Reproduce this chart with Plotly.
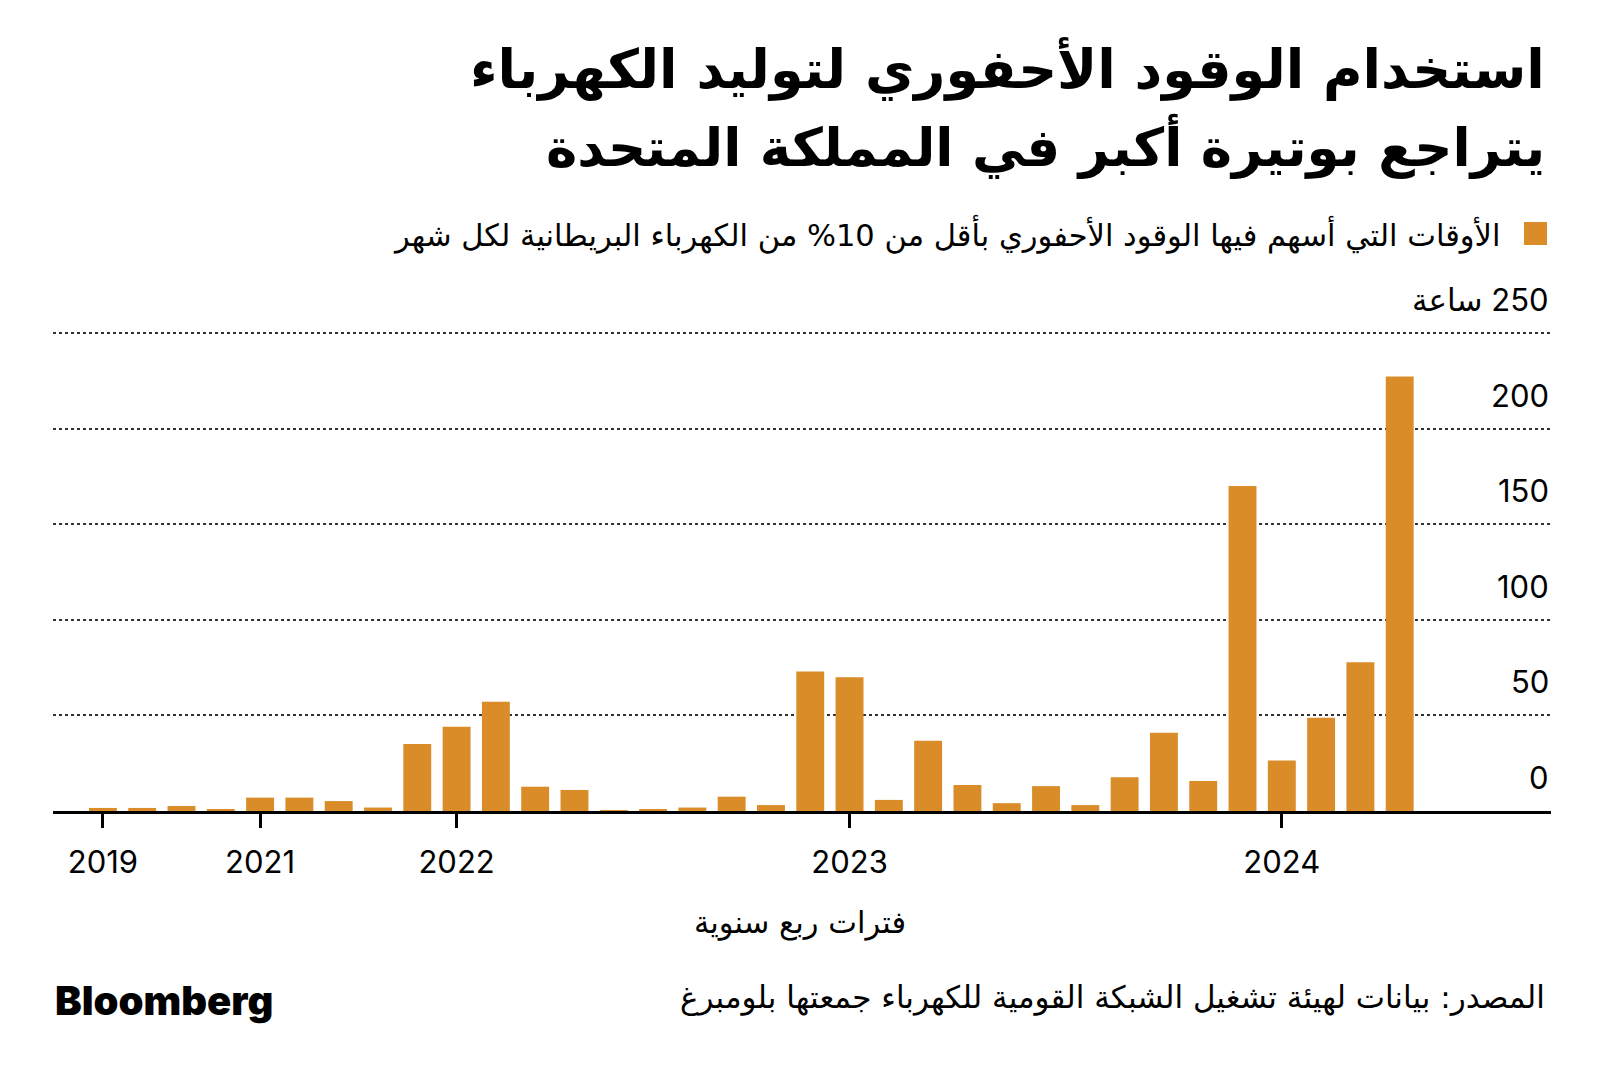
import plotly.graph_objects as go

# ---- data ----
period_index = list(range(34))
hours = [1.6, 1.6, 2.6, 1.0, 7.0, 7.0, 5.2, 1.8, 35.0, 44.0, 57.1, 12.7, 11.0, 0.4,
         1.0, 1.8, 7.5, 3.1, 73.0, 70.0, 5.8, 36.8, 13.6, 4.1, 13.0, 3.1, 17.6, 40.9,
         15.7, 169.9, 26.4, 48.8, 77.8, 227.2]
year_tick_index = [0, 4, 9, 19, 30]
year_tick_text = ["2019", "2021", "2022", "2023", "2024"]
y_tick_values = [0, 50, 100, 150, 200, 250]
y_tick_text = ["0", "50", "100", "150", "200", "ساعة\u200e 250"]

title_line1 = "استخدام الوقود الأحفوري لتوليد الكهرباء"
title_line2 = "يتراجع بوتيرة أكبر في المملكة المتحدة"
legend_text = "الأوقات التي أسهم فيها الوقود الأحفوري بأقل من 10% من الكهرباء البريطانية لكل شهر"
x_title = "فترات ربع سنوية"
source_text = "المصدر: بيانات لهيئة تشغيل الشبكة القومية للكهرباء جمعتها بلومبرغ"

BAR_COLOR = "#D98C28"
W, H = 1600, 1080
L, R = 53, 49
T, B = 331, 269
PW, PH = W - L - R, H - T - B

def px_x(px):
    return (px - L) / PW

def px_y(py):
    return (H - B - py) / PH

AR_FONT = "DejaVu Sans"
NUM_FONT = "Inter, DejaVu Sans"

fig = go.Figure()
fig.add_trace(go.Bar(x=period_index, y=hours, marker=dict(color=BAR_COLOR, line=dict(width=0)),
                     showlegend=False, hoverinfo="y"))

fig.update_layout(
    width=W, height=H,
    margin=dict(l=L, r=R, t=T, b=B, pad=0),
    paper_bgcolor="white", plot_bgcolor="white",
    bargap=0.29,
    xaxis=dict(range=[-1.27, 36.85], tickmode="array", tickvals=year_tick_index,
               ticktext=year_tick_text, showgrid=False, zeroline=False,
               showline=True, linecolor="black", linewidth=3,
               ticks="outside", ticklen=14, tickwidth=3, tickcolor="black",
               ticklabelstandoff=8,
               tickfont=dict(family=NUM_FONT, size=31, color="black")),
    yaxis=dict(range=[0, 251], tickmode="array", tickvals=y_tick_values,
               showticklabels=False, showgrid=True, gridcolor="#333333",
               gridwidth=1.5, griddash="dot", zeroline=False, showline=False),
)

annotations = []
for v, t in zip(y_tick_values, y_tick_text):
    annotations.append(dict(x=1.0, xref="paper", xanchor="right", y=v, yref="y",
                            yanchor="bottom", yshift=13, text=t, showarrow=False,
                            font=dict(family=NUM_FONT, size=31, color="black")))

annotations += [
    dict(x=px_x(1547), y=px_y(69), xref="paper", yref="paper", xanchor="right", yanchor="middle",
         text="<b>" + title_line1 + "</b>", showarrow=False,
         font=dict(family=AR_FONT, size=54, color="black")),
    dict(x=px_x(1547), y=px_y(146), xref="paper", yref="paper", xanchor="right", yanchor="middle",
         text="<b>" + title_line2 + "</b>", showarrow=False,
         font=dict(family=AR_FONT, size=53, color="black")),
    dict(x=px_x(1502), y=px_y(234), xref="paper", yref="paper", xanchor="right", yanchor="middle",
         text=legend_text, showarrow=False,
         font=dict(family=AR_FONT, size=30.5, color="black")),
    dict(x=px_x(800), y=px_y(923), xref="paper", yref="paper", xanchor="center", yanchor="middle",
         text=x_title, showarrow=False,
         font=dict(family=AR_FONT, size=30.5, color="black")),
    dict(x=px_x(1547), y=px_y(997), xref="paper", yref="paper", xanchor="right", yanchor="middle",
         text=source_text, showarrow=False,
         font=dict(family=AR_FONT, size=31, color="black")),
    dict(x=px_x(53), y=px_y(1000), xref="paper", yref="paper", xanchor="left", yanchor="middle",
         text="Bloomberg", showarrow=False,
         font=dict(family="Inter", size=40, color="black", weight=900)),
]
fig.update_layout(annotations=annotations)

fig.add_shape(type="rect", xref="paper", yref="paper",
              x0=px_x(1524), x1=px_x(1547), y0=px_y(245), y1=px_y(222),
              fillcolor=BAR_COLOR, line=dict(width=0))

fig.write_html("out.html", config={"displayModeBar": False},
               post_script="document.body.style.margin='0';")
